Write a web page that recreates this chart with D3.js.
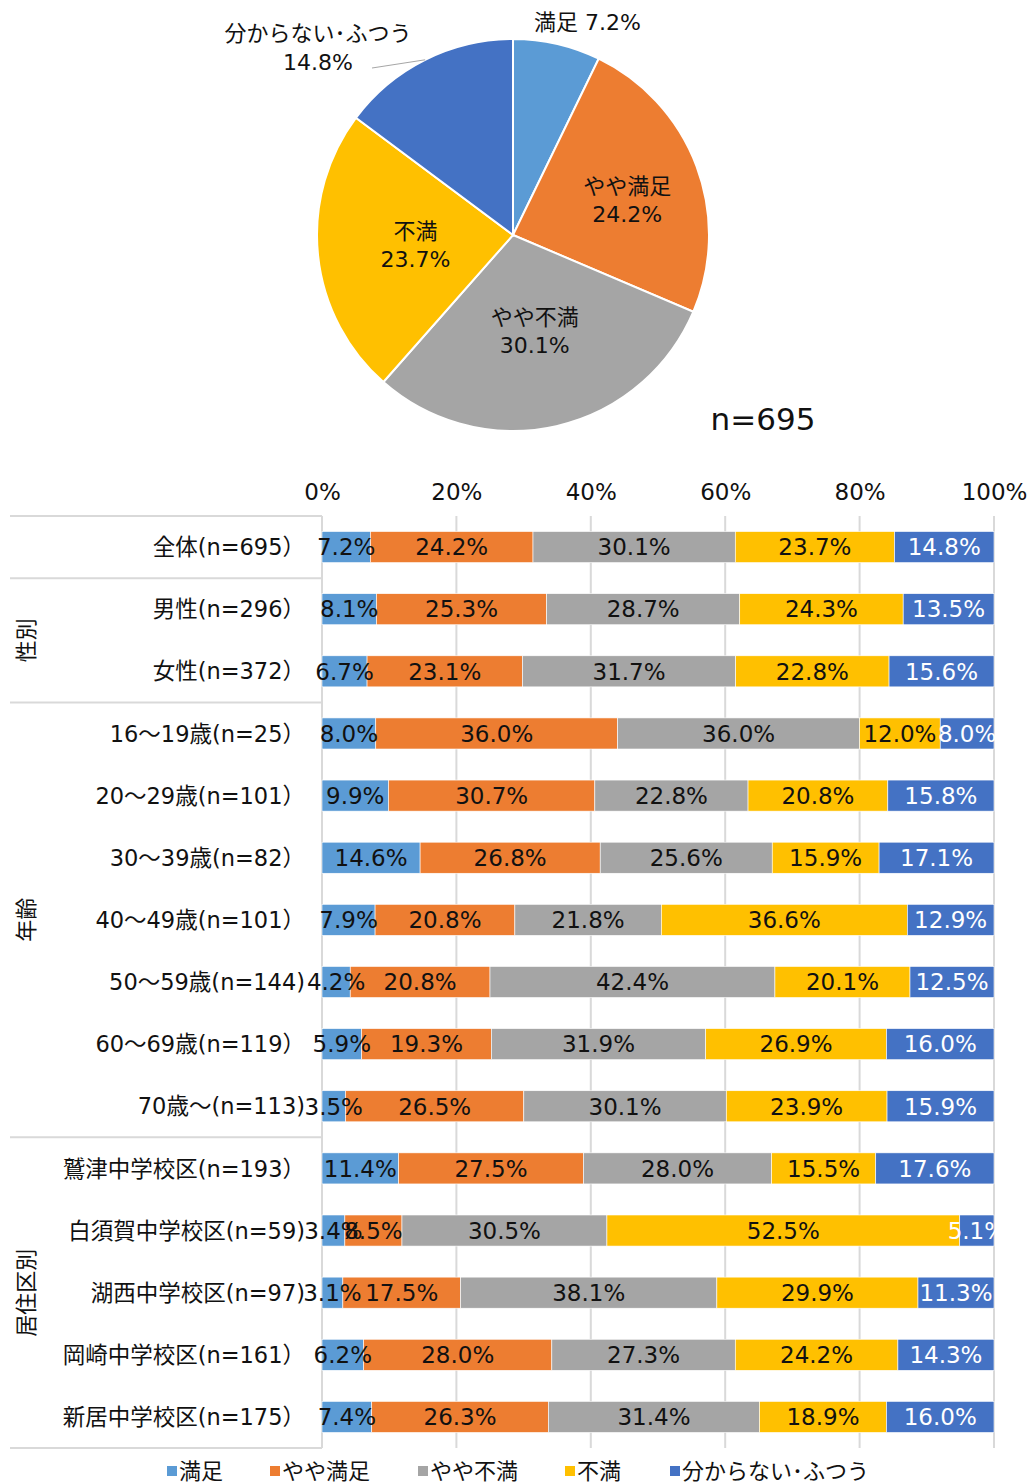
<!DOCTYPE html>
<html><head><meta charset="utf-8">
<script src="https://cdn.jsdelivr.net/npm/d3@7"></script>
<style>
body{margin:0;background:#fff;}
svg{display:block;font-family:"DejaVu Sans","Noto Sans CJK JP",sans-serif;}
</style></head>
<body><svg id="c" width="1032" height="1483"></svg>
<script>
const seriesNames = ['満足','やや満足','やや不満','不満','分からない･ふつう'];
const colors = ['#5B9BD5','#ED7D31','#A5A5A5','#FFC000','#4472C4'];
const pieValues = [7.2,24.2,30.1,23.7,14.8];
const pieN = 'n=695';
const categories = ['全体(n=695）','男性(n=296）','女性(n=372）','16～19歳(n=25）','20～29歳(n=101）','30～39歳(n=82）','40～49歳(n=101）','50～59歳(n=144)','60～69歳(n=119）','70歳～(n=113)','鷲津中学校区(n=193）','白須賀中学校区(n=59)','湖西中学校区(n=97)','岡崎中学校区(n=161）','新居中学校区(n=175）'];
const manzoku     = [7.2,8.1,6.7,8.0,9.9,14.6,7.9,4.2,5.9,3.5,11.4,3.4,3.1,6.2,7.4];
const yayaManzoku = [24.2,25.3,23.1,36.0,30.7,26.8,20.8,20.8,19.3,26.5,27.5,8.5,17.5,28.0,26.3];
const yayaFuman   = [30.1,28.7,31.7,36.0,22.8,25.6,21.8,42.4,31.9,30.1,28.0,30.5,38.1,27.3,31.4];
const fuman       = [23.7,24.3,22.8,12.0,20.8,15.9,36.6,20.1,26.9,23.9,15.5,52.5,29.9,24.2,18.9];
const wakaranai   = [14.8,13.5,15.6,8.0,15.8,17.1,12.9,12.5,16.0,15.9,17.6,5.1,11.3,14.3,16.0];
const tickValues = [0,20,40,60,80,100];
const groupNames = ['性別','年齢','居住区別'];
const groupFirstRow = [1,3,10];
const groupLastRow = [2,9,14];

const series = [manzoku,yayaManzoku,yayaFuman,fuman,wakaranai];
const textColors = ['#111','#111','#111','#111','#fff'];
const svg = d3.select('#c');
const FONT = 23;

// ---------- Pie ----------
const cx = 513, cy = 235, R = 196;
const pie = d3.pie().sort(null).value(d=>d)(pieValues);
const arc = d3.arc().innerRadius(0).outerRadius(R);
const pg = svg.append('g').attr('transform',`translate(${cx},${cy})`);
pg.selectAll('path').data(pie).join('path')
  .attr('d',arc).attr('fill',(d,i)=>colors[i])
  .attr('stroke','#fff').attr('stroke-width',2);

const fmt = v => v.toFixed(1)+'%';
// inside labels: radial factor and angle nudge per slice
const inside = {1:[0.61,0.06],2:[0.5,0],3:[0.5,0]};
pie.forEach((d,i)=>{
  if(!(i in inside)) return;
  const a = (d.startAngle+d.endAngle)/2 + inside[i][1];
  const r = R*inside[i][0];
  const x = Math.sin(a)*r, y = -Math.cos(a)*r;
  const t = pg.append('text').attr('text-anchor','middle').attr('font-size',22).attr('fill','#111');
  t.append('tspan').attr('x',x).attr('y',y-6).text(seriesNames[i]);
  t.append('tspan').attr('x',x).attr('y',y+22).text(fmt(pieValues[i]));
});
// outside label: 満足
{
  const d = pie[0];
  const a = (d.startAngle+d.endAngle)/2 + 0.11;
  const r = R*1.15;
  pg.append('text').attr('x',Math.sin(a)*r).attr('y',-Math.cos(a)*r+8)
    .attr('text-anchor','middle').attr('font-size',22).attr('fill','#111')
    .text(seriesNames[0]+' '+fmt(pieValues[0]));
}
// outside label: 分からない･ふつう with leader line
{
  const d = pie[4];
  const a = (d.startAngle+d.endAngle)/2;
  const px = Math.sin(a)*R, py = -Math.cos(a)*R;
  pg.append('polyline').attr('points',`${px},${py} ${-141},${-167}`)
    .attr('fill','none').attr('stroke','#a6a6a6').attr('stroke-width',1);
  const t = pg.append('text').attr('text-anchor','middle').attr('font-size',22).attr('fill','#111');
  t.append('tspan').attr('x',-195).attr('y',-194).text(seriesNames[4]);
  t.append('tspan').attr('x',-195).attr('y',-165).text(fmt(pieValues[4]));
}
svg.append('text').attr('x',763).attr('y',430).attr('text-anchor','middle')
  .attr('font-size',31).attr('fill','#111').text(pieN);

// ---------- Bars ----------
const x0 = 322, x1 = 994, yTop = 516, yBot = 1448;
const x = d3.scaleLinear().domain([0,100]).range([x0,x1]);
const y = d3.scaleBand().domain(categories).range([yTop,yBot]).paddingInner(0.5).paddingOuter(0.25);

// gridlines
svg.append('g').selectAll('line').data(tickValues).join('line')
  .attr('x1',d=>x(d)).attr('x2',d=>x(d)).attr('y1',yTop).attr('y2',yBot)
  .attr('stroke','#d9d9d9').attr('stroke-width',2);
// tick labels
const xAxis = d3.axisTop(x).tickValues(tickValues).tickFormat(d=>d+'%').tickSize(0).tickPadding(0);
const ax = svg.append('g').attr('transform',`translate(0,${500})`).call(xAxis);
ax.select('.domain').remove();
ax.selectAll('text').attr('font-size',FONT).attr('fill','#111')
  .attr('font-family','"DejaVu Sans","Noto Sans CJK JP",sans-serif').attr('dy',0);

// table lines on left
const step = y.step();
const sepYs = [yTop, yTop+step*groupFirstRow[0], yTop+step*groupFirstRow[1], yTop+step*groupFirstRow[2], yBot];
svg.append('g').selectAll('line').data(sepYs).join('line')
  .attr('x1',10).attr('x2',x0).attr('y1',d=>d).attr('y2',d=>d)
  .attr('stroke','#d9d9d9').attr('stroke-width',2);

// stacked bars
const rows = categories.map((c,i)=>{
  const vals = series.map(s=>s[i]);
  const tot = d3.sum(vals);
  let acc = 0;
  return vals.map((v,k)=>{const s0=acc/tot*100; acc+=v; return {cat:c,k,v,s0,s1:acc/tot*100};});
});
const bg = svg.append('g');
rows.forEach(r=>{
  bg.selectAll(null).data(r).join('rect')
    .attr('x',d=>x(d.s0)).attr('width',d=>x(d.s1)-x(d.s0))
    .attr('y',d=>y(d.cat)).attr('height',y.bandwidth())
    .attr('fill',d=>colors[d.k]).attr('stroke','#fff').attr('stroke-width',0.6);
});
const lg = svg.append('g');
rows.forEach(r=>{
  lg.selectAll(null).data(r).join('text')
    .attr('x',d=>(x(d.s0)+x(d.s1))/2).attr('y',d=>y(d.cat)+y.bandwidth()/2)
    .attr('dy','0.36em').attr('text-anchor','middle').attr('font-size',FONT)
    .attr('fill',d=>textColors[d.k]).text(d=>fmt(d.v));
});

// category labels
svg.append('g').selectAll('text').data(categories).join('text')
  .attr('x',305).attr('y',d=>y(d)+y.bandwidth()/2).attr('dy','0.36em')
  .attr('text-anchor','end').attr('font-size',22.5).attr('fill','#111').text(d=>d);

// group labels (vertical)
groupNames.forEach((g,i)=>{
  const gy = (yTop+step*groupFirstRow[i] + yTop+step*(groupLastRow[i]+1))/2;
  svg.append('text').attr('transform',`translate(26,${gy}) rotate(-90)`)
    .attr('text-anchor','middle').attr('dy','0.36em').attr('font-size',22).attr('fill','#111').text(g);
});

// legend
const legX = [167,270,418,565,670];
const leg = svg.append('g').selectAll('g').data(seriesNames).join('g')
  .attr('transform',(d,i)=>`translate(${legX[i]},1471)`);
leg.append('rect').attr('x',0).attr('y',-5).attr('width',10).attr('height',10).attr('fill',(d,i)=>colors[i]);
leg.append('text').attr('x',12).attr('dy','0.36em').attr('font-size',22).attr('fill','#111').text(d=>d);
</script></body></html>
